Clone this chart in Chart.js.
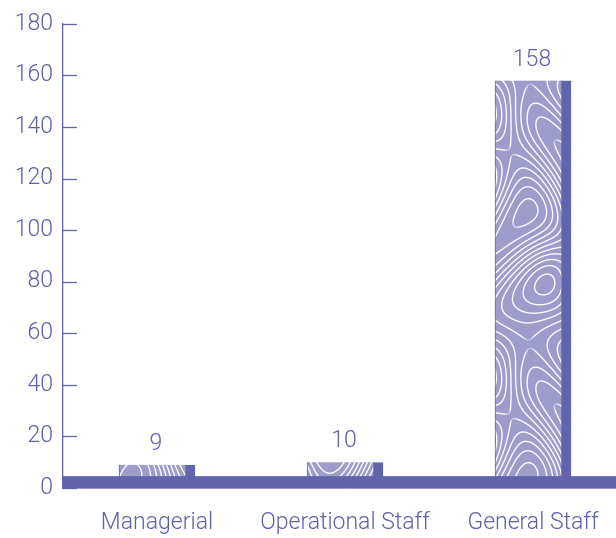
<!DOCTYPE html>
<html>
<head>
<meta charset="utf-8">
<script src="https://cdn.jsdelivr.net/npm/chart.js@4.4.0/dist/chart.umd.min.js"></script>
<style>
  html, body { margin: 0; padding: 0; background: #ffffff; overflow: hidden; }
  #wrap { position: relative; width: 627px; height: 538px; }
</style>
</head>
<body>
<div id="wrap"><canvas id="c"></canvas></div>
<script>
const categories = ['Managerial', 'Operational Staff', 'General Staff'];
const values = [9, 10, 158];
const yTickValues = [0, 20, 40, 60, 80, 100, 120, 140, 160, 180];

const DARK = '#6264ab';
const FACE = [157, 156, 203];
const TEXT = '#5f61a8';
const FONT = { family: 'Roboto, "Open Sans", sans-serif', size: 23, weight: 300 };

// topographic contour-line texture for the bar faces
function makePattern() {
  const W = 132, H = 264;
  const t = document.createElement('canvas');
  t.width = W; t.height = H;
  const g = t.getContext('2d');
  const img = g.createImageData(W, H);
  const TP = 2 * Math.PI;
  const L = 3.2;
  const f = (x, y) => L * (Math.sin(TP * x / W + 1.6 * Math.sin(TP * y / H)) +
                           0.7 * Math.sin(TP * 2 * y / H + 0.9 * Math.cos(TP * x / W)));
  for (let y = 0; y < H; y++) {
    for (let x = 0; x < W; x++) {
      const v = f(x + 0.5, y + 0.5);
      const gx = (f(x + 1, y + 0.5) - f(x, y + 0.5));
      const gy = (f(x + 0.5, y + 1) - f(x + 0.5, y));
      const gm = Math.max(Math.hypot(gx, gy), 1e-4);
      const d = Math.abs(v - Math.round(v)) / gm;
      let a = Math.min(1, Math.max(0, 1.2 - d));
      if (gm < 0.06) a *= gm / 0.06;
      a *= 0.95;
      const i = (y * W + x) * 4;
      img.data[i]     = FACE[0] + (255 - FACE[0]) * a;
      img.data[i + 1] = FACE[1] + (255 - FACE[1]) * a;
      img.data[i + 2] = FACE[2] + (255 - FACE[2]) * a;
      img.data[i + 3] = 255;
    }
  }
  g.putImageData(img, 0, 0);
  return g.createPattern(t, 'repeat');
}

const floorBand = {
  id: 'floorBand',
  afterDatasetsDraw(chart) {
    const { ctx, chartArea, scales } = chart;
    const y0 = scales.y.getPixelForValue(0);
    const y1 = scales.y.getPixelForValue(4.6);
    ctx.save();
    ctx.fillStyle = DARK;
    ctx.fillRect(chartArea.left, y1, chartArea.right - chartArea.left, y0 - y1 + 0.5);
    ctx.restore();
  }
};

const valueLabels = {
  id: 'valueLabels',
  afterDatasetsDraw(chart) {
    const { ctx } = chart;
    const meta = chart.getDatasetMeta(0);
    ctx.save();
    ctx.fillStyle = TEXT;
    ctx.font = `${FONT.weight} ${FONT.size}px ${FONT.family}`;
    ctx.textAlign = 'center';
    ctx.textBaseline = 'alphabetic';
    meta.data.forEach((el, i) => {
      ctx.fillText(String(values[i]), el.x - 1, el.y - 15);
    });
    ctx.restore();
  }
};

const yTickMarks = {
  id: 'yTickMarks',
  afterDraw(chart) {
    const { ctx, chartArea, scales } = chart;
    const ys = scales.y;
    ctx.save();
    ctx.strokeStyle = DARK;
    ctx.lineWidth = 1.3;
    ys.ticks.forEach((tk, i) => {
      const p = Math.round(ys.getPixelForTick(i)) + 0.5;
      ctx.beginPath();
      ctx.moveTo(chartArea.left, p);
      ctx.lineTo(chartArea.left + 14, p);
      ctx.stroke();
    });
    ctx.restore();
  }
};

new Chart(document.getElementById('c'), {
  type: 'bar',
  data: {
    labels: categories,
    datasets: [{
      data: values,
      backgroundColor: makePattern(),
      borderColor: DARK,
      borderWidth: { left: 1, right: 10, top: 0, bottom: 0 },
      borderSkipped: false,
      barThickness: 76
    }]
  },
  options: {
    responsive: true,
    maintainAspectRatio: false,
    animation: false,
    layout: { padding: { top: 2, right: 0, left: 0, bottom: 0 } },
    plugins: { legend: { display: false }, tooltip: { enabled: false } },
    scales: {
      x: {
        grid: { display: false },
        border: { display: true, color: '#c9c9e4', width: 1 },
        ticks: { color: TEXT, font: FONT, padding: 13, maxRotation: 0 },
        afterFit(s) { s.height = 50; }
      },
      y: {
        min: 0, max: 180,
        afterBuildTicks(s) { s.ticks = yTickValues.map(v => ({ value: v })); },
        grid: { display: false, drawTicks: false, tickLength: 0 },
        border: { display: true, color: DARK, width: 1.3 },
        ticks: { color: TEXT, font: FONT, padding: 10 },
        afterFit(s) { s.width = 63; }
      }
    }
  },
  plugins: [floorBand, valueLabels, yTickMarks]
});
</script>
</body>
</html>
